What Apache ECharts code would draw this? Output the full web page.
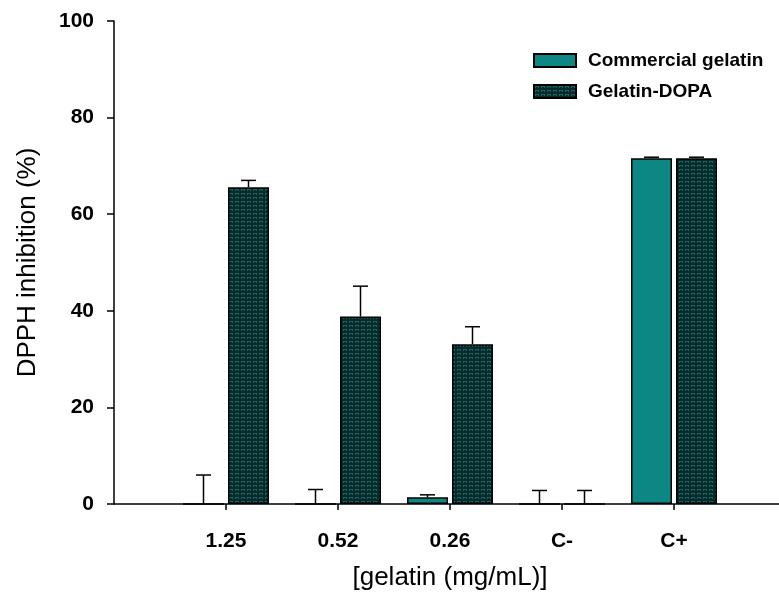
<!DOCTYPE html>
<html>
<head>
<meta charset="utf-8">
<script src="https://cdn.jsdelivr.net/npm/echarts@6/dist/echarts.min.js"></script>
<style>
html,body{margin:0;padding:0;background:#fff;overflow:hidden;}
#chart{width:779px;height:602px;}
</style>
</head>
<body>
<div id="chart"></div>
<script>
const categories = ['1.25', '0.52', '0.26', 'C-', 'C+'];
const commercial = [0, 0, 1.4, 0, 71.6];
const commercialErr = [6.0, 3.0, 0.5, 2.8, 0.2];
const dopa = [65.6, 38.8, 33.1, 0, 71.6];
const dopaErr = [1.4, 6.3, 3.6, 2.8, 0.2];
const yTicks = [0, 20, 40, 60, 80, 100];
const seriesNames = ['Commercial gelatin', 'Gelatin-DOPA'];

const FONT = 'Liberation Sans, Arial, Helvetica, sans-serif';
const BAR_W = 41;
const GAP_PX = 4;
const OFFSET = (BAR_W + GAP_PX) / 2;

// padded category axis (empty slot on each side)
const axisCats = [''].concat(categories, ['']);
const pad = arr => ['-'].concat(arr, ['-']);

// texture for Gelatin-DOPA
function makePattern() {
  const c = document.createElement('canvas');
  c.width = 6; c.height = 4;
  const ctx = c.getContext('2d');
  ctx.fillStyle = '#052b2b';
  ctx.fillRect(0, 0, 6, 4);
  ctx.fillStyle = '#1d625f';
  ctx.fillRect(1, 1, 4, 1);
  ctx.fillRect(1, 2, 1, 1);
  ctx.fillRect(4, 2, 1, 1);
  return c;
}
const dopaFill = { image: makePattern(), repeat: 'repeat' };

function errData(vals, errs) {
  return vals.map((v, i) => [i + 1, v, errs[i]]);
}
function errRender(offset) {
  return function (params, api) {
    const x = api.value(0), v = api.value(1), e = api.value(2);
    const p0 = api.coord([x, v]);
    const p1 = api.coord([x, v + e]);
    const cx = p0[0] + offset;
    const st = { stroke: '#000', lineWidth: 1.5 };
    return {
      type: 'group',
      children: [
        { type: 'line', shape: { x1: cx, y1: p0[1], x2: cx, y2: p1[1] }, style: st },
        { type: 'line', shape: { x1: cx - 7.5, y1: p1[1], x2: cx + 7.5, y2: p1[1] }, style: st }
      ]
    };
  };
}

const chart = echarts.init(document.getElementById('chart'), null, { renderer: 'canvas' });
chart.setOption({
  animation: false,
  backgroundColor: '#fff',
  grid: { left: 114, top: 21, width: 672, height: 483, containLabel: false, outerBoundsMode: 'none' },
  legend: {
    data: seriesNames,
    orient: 'vertical',
    left: 533, top: 51,
    padding: 0,
    itemWidth: 42, itemHeight: 13, itemGap: 12,
    icon: 'rect',
    textStyle: { fontFamily: FONT, fontSize: 19, fontWeight: 'bold', color: '#000', padding: [0, 0, 0, 7] }
  },
  xAxis: {
    type: 'category',
    data: axisCats,
    boundaryGap: false,
    name: '[gelatin (mg/mL)]',
    nameLocation: 'middle',
    nameGap: 61,
    nameTextStyle: { fontFamily: FONT, fontSize: 26, color: '#000' },
    axisLine: { lineStyle: { color: '#000', width: 1.5 } },
    axisTick: { show: true, length: 6, interval: (i) => i > 0 && i < axisCats.length - 1, lineStyle: { color: '#000', width: 1.5 } },
    axisLabel: { interval: 0, fontFamily: FONT, fontSize: 21, fontWeight: 'bold', color: '#000', margin: 27 },
    splitLine: { show: false }
  },
  yAxis: {
    type: 'value',
    min: yTicks[0], max: yTicks[yTicks.length - 1], interval: yTicks[1] - yTicks[0],
    name: 'DPPH inhibition (%)',
    nameLocation: 'middle',
    nameGap: 73,
    nameTextStyle: { fontFamily: FONT, fontSize: 26, color: '#000' },
    axisLine: { show: true, lineStyle: { color: '#000', width: 1.5 } },
    axisTick: { show: true, length: 7, lineStyle: { color: '#000', width: 1.5 } },
    axisLabel: { fontFamily: FONT, fontSize: 21, fontWeight: 'bold', color: '#000', margin: 20 },
    splitLine: { show: false }
  },
  series: [
    {
      name: seriesNames[0], type: 'bar', data: pad(commercial),
      barWidth: BAR_W, barGap: (GAP_PX / BAR_W * 100) + '%',
      itemStyle: { color: '#0c8784', borderColor: '#000', borderWidth: 1.5 }
    },
    {
      name: seriesNames[1], type: 'bar', data: pad(dopa),
      barWidth: BAR_W, barGap: (GAP_PX / BAR_W * 100) + '%',
      itemStyle: { color: dopaFill, borderColor: '#000', borderWidth: 1.5 }
    },
    {
      name: 'err1', type: 'custom', data: errData(commercial, commercialErr),
      renderItem: errRender(-OFFSET), encode: { x: 0, y: 1 }, z: 10, silent: true
    },
    {
      name: 'err2', type: 'custom', data: errData(dopa, dopaErr),
      renderItem: errRender(OFFSET), encode: { x: 0, y: 1 }, z: 10, silent: true
    }
  ]
});
</script>
</body>
</html>
